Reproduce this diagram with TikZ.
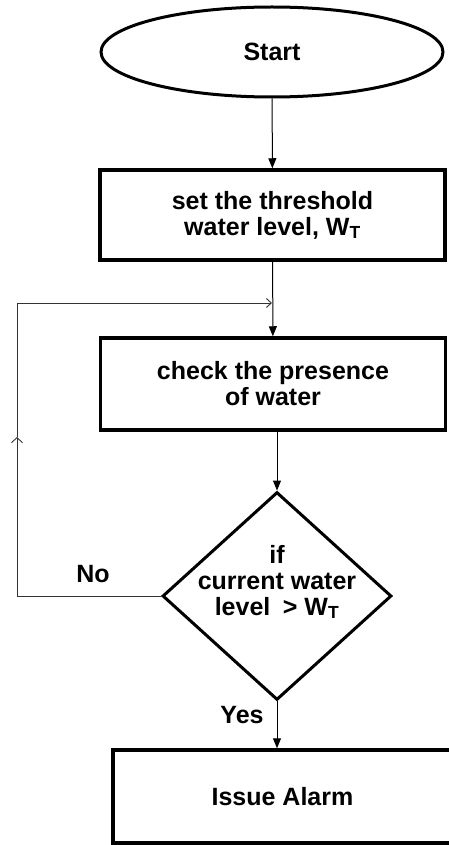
\documentclass[tikz,border=0pt]{standalone}
\usepackage{fontspec}
\setmainfont{Liberation Sans}
\usetikzlibrary{shapes.geometric,arrows.meta}

\begin{document}
\begin{tikzpicture}[x=1pt, y=-1pt,
  every node/.style={font=\fontsize{25}{26}\selectfont\bfseries, align=center},
  stepbox/.style={draw, line width=3.5pt, minimum width=345pt, minimum height=90pt, inner sep=0pt},
  flow/.style={line width=1pt, -{Triangle[length=10pt,width=8pt]}},
  loop/.style={line width=0.9pt, draw=black!80}]
\useasboundingbox (0,0) rectangle (449,845);
% terminal and process boxes
\node[draw, ellipse, line width=3pt, minimum width=342pt, minimum height=90pt, inner sep=0pt] (start) at (272,52) {Start};
\node[stepbox] (thresh) at (272.5,215) {set the threshold\\water level, W\textsubscript{T}};
\node[stepbox, minimum height=92pt] (check) at (273,384) {check the presence\\of water};
% decision
\node[draw, diamond, line width=3pt, minimum width=229pt, minimum height=207pt, inner sep=-10pt, shape aspect=1.1] (decide) at (277,596) {if\\current water\\level\enspace> W\textsubscript{T}\\[6pt]};
\node[stepbox, minimum width=339pt, minimum height=93pt] (alarm) at (282.5,796.5) {Issue Alarm};

% main flow
\draw[flow] (start) -- (thresh);
\draw[flow] (thresh) -- (check);
\draw[flow] (check.south -| decide.north) -- (decide.north);
\draw[flow] (decide.south) -- (decide.south |- alarm.north);

% loop back when below threshold
\coordinate (upmark) at (17,437);
\coordinate (join) at (272,303);
\draw[loop, -{Straight Barb[length=5pt,width=11pt]}] (decide.west) -| (upmark);
\draw[loop, -{Straight Barb[length=5pt,width=9pt]}] (upmark) |- (join);

% branch labels
\node (no) at (93,574) {No};
\node (yes) at (242,715) {Yes};
\end{tikzpicture}
\end{document}
